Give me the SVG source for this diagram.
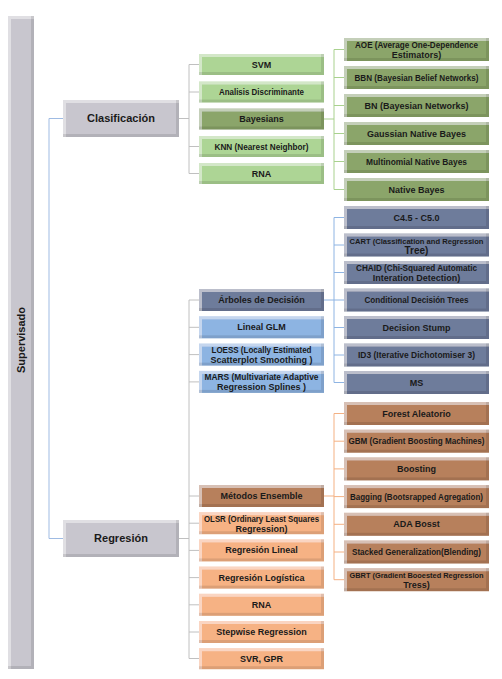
<svg xmlns="http://www.w3.org/2000/svg" width="502" height="679" viewBox="0 0 502 679">
<defs>
<filter id="bevel" x="0" y="0" width="1" height="1">
<feOffset in="SourceAlpha" dx="3" dy="3" result="o1"/>
<feComposite in="SourceAlpha" in2="o1" operator="out" result="tl"/>
<feFlood flood-color="#ffffff" flood-opacity="0.4"/>
<feComposite in2="tl" operator="in" result="hl"/>
<feOffset in="SourceAlpha" dx="-3" dy="-3" result="o2"/>
<feComposite in="SourceAlpha" in2="o2" operator="out" result="br"/>
<feFlood flood-color="#000000" flood-opacity="0.22"/>
<feComposite in2="br" operator="in" result="sh"/>
<feMerge><feMergeNode in="SourceGraphic"/><feMergeNode in="hl"/><feMergeNode in="sh"/></feMerge>
</filter>
</defs>
<style>
rect{filter:url(#bevel)}
.gray{fill:#c8c6ce}
.lg{fill:#add595}
.dg{fill:#8ba56b}
.db{fill:#6e7c9b}
.lb{fill:#8db4e2}
.br{fill:#b7805c}
.lo{fill:#f6b284}
text{font-family:"Liberation Sans Narrow","Liberation Sans",Arial,sans-serif;font-weight:bold;font-size:9px;fill:#1a1a1a;text-anchor:middle}
.big{font-size:11px}
.sm{font-size:7.8px}
.c path{fill:none;stroke-width:1}
.cb{stroke:#9fbbe3}
.cg{stroke:#c0c0c0}
.cgr{stroke:#a9d18e}
.cbl{stroke:#8eb4e3}
.co{stroke:#f4b183}
</style>
<rect width="502" height="679" fill="#ffffff" style="filter:none"/>

<g class="c" id="connectors">
<path class="cb" d="M63,118.5H49V538.5H63"/>
<path class="cg" d="M179,118.5H189M199,64.5H189V173.5H199M189,92H199M189,146.5H199"/>
<path class="cgr" d="M324,119H334M344,49.5H334V189.5H344M334,77.5H344M334,105.5H344M334,133.5H344M334,161.5H344"/>
<path class="cg" d="M179,538.5H189M199,300H189V658.5H199M189,327.3H199M189,354.6H199M189,381.9H199M189,496H199M189,523.2H199M189,550.4H199M189,577.6H199M189,604.8H199M189,632H199"/>
<path class="cbl" d="M324,300H334M344,217.5H334V382.5H344M334,245H344M334,272.5H344M334,300H344M334,327.5H344M334,355H344"/>
<path class="co" d="M324,496H334M344,413.5H334V579.7H344M334,441.2H344M334,468.9H344M334,496.6H344M334,524.3H344M334,552H344"/>
</g>

<g id="supervisado"><rect class="gray" x="8" y="16" width="26" height="653"/><text class="big" transform="translate(25,340) rotate(-90)">Supervisado</text></g>

<g id="clasificacion"><rect class="gray" x="63" y="100" width="116" height="37"/><text class="big" x="121" y="122">Clasificación</text></g>
<g id="regresion"><rect class="gray" x="63" y="520" width="116" height="37"/><text class="big" x="121" y="542">Regresión</text></g>

<g id="svm"><rect class="lg" x="199" y="54" width="125" height="21"/><text x="261.5" y="67.5">SVM</text></g>
<g id="analisis"><rect class="lg" x="199" y="81.5" width="125" height="21"/><text x="261.5" y="95" textLength="85" lengthAdjust="spacingAndGlyphs">Analisis Discriminante</text></g>
<g id="bayesians"><rect class="dg" x="199" y="108.5" width="125" height="21"/><text x="261.5" y="122">Bayesians</text></g>
<g id="knn"><rect class="lg" x="199" y="136" width="125" height="21"/><text x="261.5" y="149.5" textLength="94" lengthAdjust="spacingAndGlyphs">KNN (Nearest Neighbor)</text></g>
<g id="rna1"><rect class="lg" x="199" y="163" width="125" height="21"/><text x="261.5" y="176.5">RNA</text></g>

<g id="aoe"><rect class="dg" x="344" y="38" width="145" height="23"/><text x="416.5" y="48" textLength="123" lengthAdjust="spacingAndGlyphs">AOE (Average One-Dependence</text><text x="416.5" y="58">Estimators)</text></g>
<g id="bbn"><rect class="dg" x="344" y="66" width="145" height="23"/><text x="416.5" y="80.5" textLength="124" lengthAdjust="spacingAndGlyphs">BBN (Bayesian Belief Networks)</text></g>
<g id="bn"><rect class="dg" x="344" y="94" width="145" height="23"/><text x="416.5" y="108.5">BN (Bayesian Networks)</text></g>
<g id="gaussian"><rect class="dg" x="344" y="122" width="145" height="23"/><text x="416.5" y="136.5">Gaussian Native Bayes</text></g>
<g id="multinomial"><rect class="dg" x="344" y="150" width="145" height="23"/><text x="416.5" y="164.5" textLength="101" lengthAdjust="spacingAndGlyphs">Multinomial Native Bayes</text></g>
<g id="native"><rect class="dg" x="344" y="178" width="145" height="23"/><text x="416.5" y="192.5">Native Bayes</text></g>

<g id="c45"><rect class="db" x="344" y="206" width="145" height="23"/><text x="416.5" y="220.5">C4.5 - C5.0</text></g>
<g id="cart"><rect class="db" x="344" y="233.5" width="145" height="23"/><text class="sm" x="416.5" y="243.5" textLength="134" lengthAdjust="spacingAndGlyphs">CART (Classification and Regression</text><text x="416.5" y="253.5" style="font-size:10px">Tree)</text></g>
<g id="chaid"><rect class="db" x="344" y="261" width="145" height="23"/><text x="416.5" y="271" textLength="121" lengthAdjust="spacingAndGlyphs">CHAID (Chi-Squared Automatic</text><text x="416.5" y="281">Interation Detection)</text></g>
<g id="conditional"><rect class="db" x="344" y="288.5" width="145" height="23"/><text x="416.5" y="303" textLength="104" lengthAdjust="spacingAndGlyphs">Conditional Decisión Trees</text></g>
<g id="stump"><rect class="db" x="344" y="316" width="145" height="23"/><text x="416.5" y="330.5">Decision Stump</text></g>
<g id="id3"><rect class="db" x="344" y="343.5" width="145" height="23"/><text x="416.5" y="358" textLength="117" lengthAdjust="spacingAndGlyphs">ID3 (Iterative Dichotomiser 3)</text></g>
<g id="ms"><rect class="db" x="344" y="371" width="145" height="23"/><text x="416.5" y="385.5">MS</text></g>

<g id="arboles"><rect class="db" x="199" y="289" width="125" height="22"/><text x="261.5" y="303">Árboles de Decisión</text></g>
<g id="lineal-glm"><rect class="lb" x="199" y="316.3" width="125" height="22"/><text x="261.5" y="330.3">Lineal GLM</text></g>
<g id="loess"><rect class="lb" x="199" y="343.6" width="125" height="22"/><text x="261.5" y="353" textLength="100" lengthAdjust="spacingAndGlyphs">LOESS (Locally Estimated</text><text x="261.5" y="363">Scatterplot Smoothing )</text></g>
<g id="mars"><rect class="lb" x="199" y="370.9" width="125" height="22"/><text x="261.5" y="380.3" textLength="114" lengthAdjust="spacingAndGlyphs">MARS (Multivariate Adaptive</text><text x="261.5" y="390.3">Regression Splines )</text></g>

<g id="ensemble"><rect class="br" x="199" y="485" width="125" height="22"/><text x="261.5" y="499">Métodos Ensemble</text></g>
<g id="olsr"><rect class="lo" x="199" y="512.2" width="125" height="22"/><text x="261.5" y="521.6" textLength="115" lengthAdjust="spacingAndGlyphs">OLSR (Ordinary Least Squares</text><text x="261.5" y="531.6">Regression)</text></g>
<g id="reg-lineal"><rect class="lo" x="199" y="539.4" width="125" height="22"/><text x="261.5" y="553.4">Regresión Lineal</text></g>
<g id="reg-logistica"><rect class="lo" x="199" y="566.6" width="125" height="22"/><text x="261.5" y="580.6">Regresión Logística</text></g>
<g id="rna2"><rect class="lo" x="199" y="593.8" width="125" height="22"/><text x="261.5" y="607.8">RNA</text></g>
<g id="stepwise"><rect class="lo" x="199" y="621" width="125" height="22"/><text x="261.5" y="635">Stepwise Regression</text></g>
<g id="svr"><rect class="lo" x="199" y="648.2" width="125" height="21"/><text x="261.5" y="661.7">SVR, GPR</text></g>

<g id="forest"><rect class="br" x="344" y="402" width="145" height="23"/><text x="416.5" y="416.5">Forest Aleatorio</text></g>
<g id="gbm"><rect class="br" x="344" y="429.7" width="145" height="23"/><text x="416.5" y="444.2" textLength="136" lengthAdjust="spacingAndGlyphs">GBM (Gradient Boosting Machines)</text></g>
<g id="boosting"><rect class="br" x="344" y="457.4" width="145" height="23"/><text x="416.5" y="471.9">Boosting</text></g>
<g id="bagging"><rect class="br" x="344" y="485.1" width="145" height="23"/><text x="416.5" y="499.6" textLength="133" lengthAdjust="spacingAndGlyphs">Bagging (Bootsrapped Agregation)</text></g>
<g id="ada"><rect class="br" x="344" y="512.8" width="145" height="23"/><text x="416.5" y="527.3">ADA Bosst</text></g>
<g id="stacked"><rect class="br" x="344" y="540.5" width="145" height="23"/><text x="416.5" y="555" textLength="129" lengthAdjust="spacingAndGlyphs">Stacked Generalization(Blending)</text></g>
<g id="gbrt"><rect class="br" x="344" y="568.2" width="145" height="23"/><text class="sm" x="416.5" y="578.2" textLength="134" lengthAdjust="spacingAndGlyphs">GBRT (Gradient Booested Regression</text><text x="416.5" y="588">Tress)</text></g>
</svg>
